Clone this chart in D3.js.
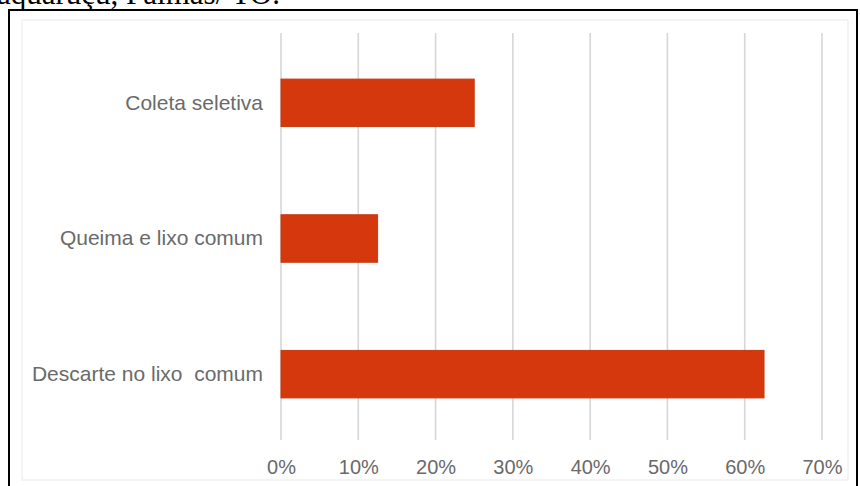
<!DOCTYPE html>
<html>
<head>
<meta charset="utf-8">
<script src="https://cdn.jsdelivr.net/npm/d3@7"></script>
<style>
  html, body { margin: 0; padding: 0; background: #ffffff; }
  svg { display: block; }
</style>
</head>
<body>
<svg id="chart" width="860" height="486"></svg>
<script>
// Destino dado aos resíduos (percentual de respostas)
const categories = ["Coleta seletiva", "Queima e lixo comum", "Descarte no lixo  comum"];
const values = [0.25, 0.125, 0.625];
const tickValues = [0, 0.1, 0.2, 0.3, 0.4, 0.5, 0.6, 0.7];
const captionText = "aquaruçu, Palmas/ TO.";

const svg = d3.select("#chart");

// Caption line of the surrounding document, cut at the top edge
svg.append("text")
  .attr("x", -3)
  .attr("y", 4)
  .attr("font-family", "'Liberation Serif', 'Times New Roman', serif")
  .attr("font-size", 31)
  .attr("fill", "#000")
  .text(captionText);

// Figure frame
svg.append("rect")
  .attr("x", 9).attr("y", 10)
  .attr("width", 848).attr("height", 500)
  .attr("fill", "#fff")
  .attr("stroke", "#000")
  .attr("stroke-width", 2);

// Faint border of the embedded chart image
svg.append("rect")
  .attr("x", 22).attr("y", 20)
  .attr("width", 826).attr("height", 460)
  .attr("fill", "none")
  .attr("stroke", "#f1f1f1")
  .attr("stroke-width", 1.5);

const x = d3.scaleLinear().domain([0, 0.7]).range([281, 822]);
const y = d3.scaleBand().domain(categories).range([35, 442])
  .paddingInner(0.65).paddingOuter(0.325);

// Vertical gridlines
svg.append("g")
  .selectAll("line")
  .data(tickValues)
  .join("line")
  .attr("x1", d => x(d)).attr("x2", d => x(d))
  .attr("y1", 33).attr("y2", 440)
  .attr("stroke", "#d6d6d6")
  .attr("stroke-width", 1.6);

// Bottom axis labels
const xAxis = d3.axisBottom(x)
  .tickValues(tickValues)
  .tickFormat(d3.format(".0%"))
  .tickSize(0)
  .tickPadding(0);

const gx = svg.append("g")
  .attr("transform", "translate(0,467)")
  .call(xAxis);
gx.select(".domain").remove();
gx.selectAll("text")
  .attr("dy", "0.35em")
  .attr("font-family", "'Liberation Sans', Arial, sans-serif")
  .attr("font-size", 20)
  .attr("fill", "#6a6a6a");

// Category labels
const yAxis = d3.axisLeft(y).tickSize(0).tickPadding(0);
const gy = svg.append("g")
  .attr("transform", "translate(263,0)")
  .call(yAxis);
gy.select(".domain").remove();
gy.selectAll("text")
  .attr("font-family", "'Liberation Sans', Arial, sans-serif")
  .attr("font-size", 21)
  .attr("fill", "#6a6a6a")
  .style("white-space", "pre");

// Bars
svg.append("g")
  .selectAll("rect")
  .data(categories)
  .join("rect")
  .attr("x", x(0))
  .attr("y", d => y(d))
  .attr("width", (d, i) => x(values[i]) - x(0))
  .attr("height", y.bandwidth())
  .attr("fill", "#d5380c")
  .attr("stroke", "#c23c10")
  .attr("stroke-width", 1);
</script>
</body>
</html>
